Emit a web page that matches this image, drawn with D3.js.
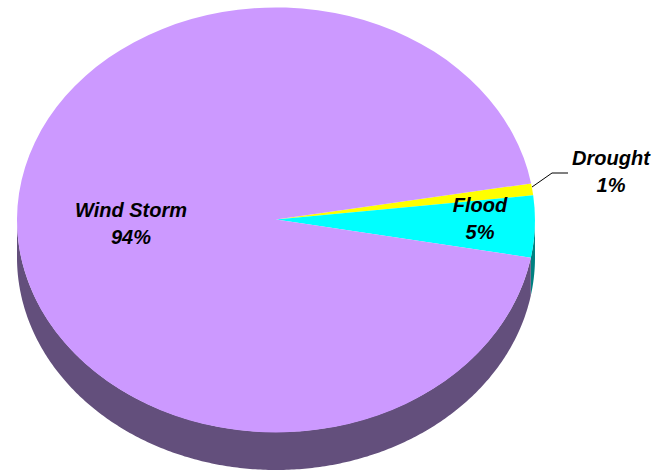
<!DOCTYPE html>
<html>
<head>
<meta charset="utf-8">
<script src="https://cdn.jsdelivr.net/npm/d3@7"></script>
<style>
  html, body { margin: 0; padding: 0; background: #fff; }
  svg { display: block; }
  .label { font-family: "Liberation Sans", Arial, sans-serif; font-size: 20px; font-weight: bold; font-style: italic; fill: #000; text-anchor: middle; }
</style>
</head>
<body>
<div id="chart"></div>
<script>
var categories = ["Drought", "Flood", "Wind Storm"];
var shares = [0.9, 4.7, 94.4];
var shownPercents = [1, 5, 94];
var topColors = ["#FFFF00", "#00FFFF", "#CC99FF"];
var sideColors = ["#808000", "#008080", "#634F7C"];

var width = 654, height = 471,
    cx = 276, cy = 219.5,
    rx = 259, ry = 212.5,
    depth = 38;

var startAngle = 80.2 * Math.PI / 180;

var svg = d3.select("#chart").append("svg")
    .attr("width", width)
    .attr("height", height);

var pie = d3.pie()
    .sort(null)
    .startAngle(startAngle)
    .endAngle(startAngle + 2 * Math.PI);

var slices = pie(shares);

// d3 angles start at 12 o'clock, the rim only shows between 3 and 9 o'clock
function rimPath(d) {
  var a0 = Math.PI / 2, a1 = 3 * Math.PI / 2;
  var from = Math.max(d.startAngle, a0), to = Math.min(d.endAngle, a1);
  if (from >= to) return null;
  var steps = d3.range(from, to, 0.01).concat([to]);
  return d3.area()
    .x(function(a) { return cx + rx * Math.sin(a); })
    .y0(function(a) { return cy - ry * Math.cos(a); })
    .y1(function(a) { return cy - ry * Math.cos(a) + depth; })(steps);
}

svg.append("g").selectAll("path")
    .data(slices)
  .enter().append("path")
    .attr("d", rimPath)
    .attr("fill", function(d, i) { return sideColors[i]; });

var arc = d3.arc().innerRadius(0).outerRadius(1);

svg.append("g")
    .attr("transform", "translate(" + cx + "," + cy + ") scale(" + rx + "," + ry + ")")
  .selectAll("path")
    .data(slices)
  .enter().append("path")
    .attr("d", arc)
    .attr("fill", function(d, i) { return topColors[i]; });

// leader line for the small slice
svg.append("path")
    .attr("d", d3.line()([[532, 187], [552, 173], [568, 173]]))
    .attr("fill", "none")
    .attr("stroke", "#000")
    .attr("stroke-width", 1);

var labelPos = [
  {x: 611, y: 165},
  {x: 480, y: 212},
  {x: 131, y: 217}
];

var labels = svg.append("g").selectAll("text")
    .data(categories)
  .enter().append("text")
    .attr("class", "label")
    .attr("x", function(d, i) { return labelPos[i].x; })
    .attr("y", function(d, i) { return labelPos[i].y; });

labels.append("tspan")
    .text(function(d) { return d; });

labels.append("tspan")
    .attr("x", function(d, i) { return labelPos[i].x; })
    .attr("dy", 26.5)
    .text(function(d, i) { return shownPercents[i] + "%"; });
</script>
</body>
</html>
